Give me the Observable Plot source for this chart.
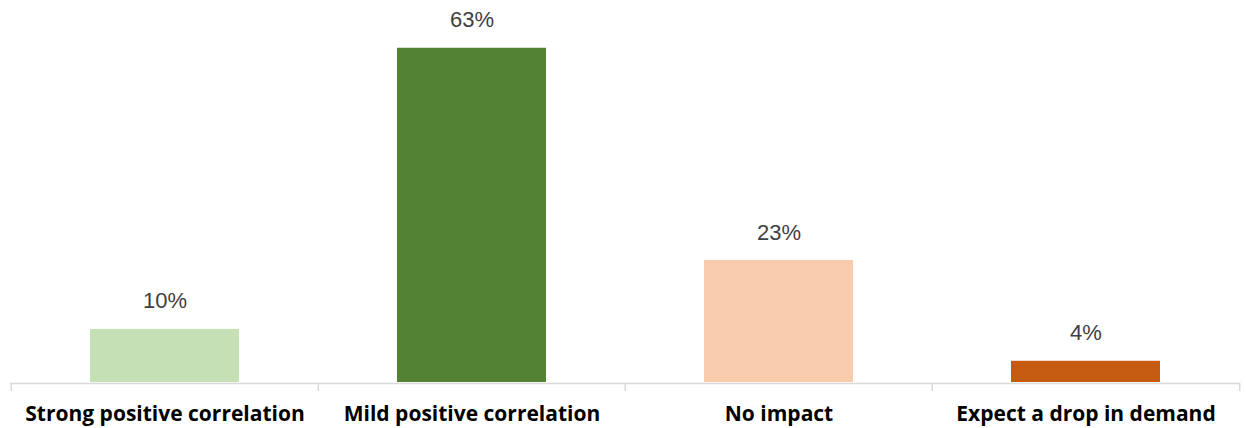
<!DOCTYPE html>
<html>
<head>
<meta charset="utf-8">
<script src="https://cdn.jsdelivr.net/npm/d3@7"></script>
<script src="https://cdn.jsdelivr.net/npm/@observablehq/plot@0.6"></script>
<style>
  html, body { margin: 0; padding: 0; background: #fff; }
  #chart svg { display: block; }
</style>
</head>
<body>
<div id="chart"></div>
<script>
const categories = ["Strong positive correlation", "Mild positive correlation", "No impact", "Expect a drop in demand"];
const values = [10, 63, 23, 4];
const labels = ["10%", "63%", "23%", "4%"];
const colors = ["#c5e0b4", "#548235", "#f8cbad", "#c55a11"];

const data = categories.map((c, i) => ({category: c, value: values[i], label: labels[i]}));

const W = 1246, H = 428;
const x0 = 10, x1 = 1240;
const step = (x1 - x0) / categories.length;

const chart = Plot.plot({
  width: W,
  height: H,
  marginLeft: 0,
  marginRight: 0,
  marginTop: 0,
  marginBottom: 46,
  x: {domain: categories, range: [x0, x1], paddingInner: 0.515, paddingOuter: 0.2575, axis: null},
  y: {domain: [0, 72], axis: null},
  color: {domain: categories, range: colors},
  style: {background: "#fff", overflow: "visible"},
  marks: [
    Plot.barY(data, {x: "category", y: "value", fill: "category"}),
    Plot.ruleY([0], {stroke: "#d9d9d9", strokeWidth: 1.5, dy: 1, insetLeft: x0, insetRight: W - x1}),
    Plot.ruleX(data, {x: "category", y1: 0, y2: 0, dx: -step / 2, dy: 1, insetBottom: -8, stroke: "#d9d9d9", strokeWidth: 1.5}),
    Plot.ruleX(data.slice(-1), {x: "category", y1: 0, y2: 0, dx: step / 2, dy: 1, insetBottom: -8, stroke: "#d9d9d9", strokeWidth: 1.5}),
    Plot.text(data, {x: "category", y: "value", text: "label", dy: -28, lineAnchor: "middle", fill: "#404040", fontSize: 22, fontFamily: "Liberation Sans, Arial, sans-serif"}),
    Plot.text(data, {x: "category", y: 0, text: "category", dy: 32, lineAnchor: "middle", fill: "#000", fontSize: 21, fontWeight: "bold", fontFamily: "Open Sans, sans-serif"})
  ]
});
document.getElementById("chart").appendChild(chart);
</script>
</body>
</html>
